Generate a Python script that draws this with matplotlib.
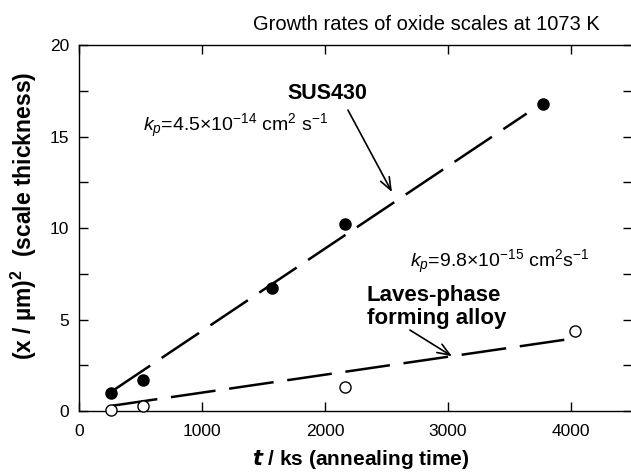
import matplotlib
matplotlib.use("Agg")
import matplotlib.pyplot as plt
import numpy as np

plt.rcParams['font.family'] = ['Liberation Sans', 'DejaVu Sans']
plt.rcParams['mathtext.fontset'] = 'custom'
plt.rcParams['mathtext.rm'] = 'Liberation Sans'
plt.rcParams['mathtext.it'] = 'Liberation Sans:italic'
plt.rcParams['mathtext.bf'] = 'Liberation Sans:bold'

# measured (x/um)^2 against annealing time (ks)
sus_t = [259, 518, 1570, 2160, 3775]
sus_x2 = [1.0, 1.68, 6.75, 10.2, 16.8]
laves_t = [259, 518, 2160, 4030]
laves_x2 = [0.07, 0.3, 1.3, 4.4]

# parabolic rate constants, cm^2 s^-1
kp_sus = 4.5e-14
kp_laves = 9.8e-15
sus_b = -0.12
laves_b = 0.03
sus_fit_t = [275, 3640]
laves_fit_t = [275, 4010]

xticks = [0, 1000, 2000, 3000, 4000]
yticks = [0, 5, 10, 15, 20]

fig = plt.figure(figsize=(6.31, 4.72), dpi=100)
ax = fig.add_axes([0.1252, 0.129, 0.877, 0.7754])

# cm^2/s -> um^2/ks
def fit(t, kp, b):
    t = np.array(t, dtype=float)
    return t, kp * 1e8 * 1e3 * t + b

ft, fy = fit(sus_fit_t, kp_sus, sus_b)
ax.plot(ft, fy, color='black', lw=1.8, dashes=(18, 5.5), solid_capstyle='butt')
ft, fy = fit(laves_fit_t, kp_laves, laves_b)
ax.plot(ft, fy, color='black', lw=1.8, dashes=(18, 5.5), solid_capstyle='butt')

ax.plot(sus_t, sus_x2, 'o', color='black', ms=8, clip_on=False, zorder=5)
ax.plot(laves_t, laves_x2, 'o', mfc='white', mec='black', mew=1.0, ms=8,
        clip_on=False, zorder=5)

ax.set_xlim(0, 4500)
ax.set_ylim(0, 20)
ax.set_xticks(xticks)
ax.set_yticks(yticks)
ax.set_yticks([2.5, 7.5, 12.5, 17.5], minor=True)
ax.tick_params(which='both', direction='in', top=True, right=True,
               length=6.5, width=1.0, labelsize=12.5)
ax.tick_params(axis='x', pad=9)
ax.tick_params(axis='y', pad=7)
for s in ax.spines.values():
    s.set_linewidth(1.0)

ax.text(2020, 17.35, 'SUS430', fontsize=15.5, fontweight='bold',
        ha='center', va='center')
ax.text(520, 15.6, r'$k_p$=4.5$\times$10$^{-14}$ cm$^2$ s$^{-1}$', fontsize=14,
        ha='left', va='center')
ax.text(2691, 8.14, r'$k_p$=9.8$\times$10$^{-15}$ cm$^2$s$^{-1}$', fontsize=14,
        ha='left', va='center')
ax.text(2341, 5.7, 'Laves-phase\nforming alloy', fontsize=16, fontweight='bold',
        ha='left', va='center', linespacing=1.1)

arrow = dict(arrowstyle='->,head_length=0.9,head_width=0.35', color='black', lw=1.2,
             shrinkA=0, shrinkB=0)
ax.annotate('', xy=(2545, 11.97), xytext=(2187, 16.45), arrowprops=arrow)
ax.annotate('', xy=(3033, 3.0), xytext=(2691, 4.43), arrowprops=arrow)

fig.text(0.675, 0.949, 'Growth rates of oxide scales at 1073 K', fontsize=14.5,
         ha='center', va='center')
fig.text(0.038, 0.542, r'(x / µm)$^\mathbf{2}$  (scale thickness)', fontsize=16.5,
         fontweight='bold', rotation=90, ha='center', va='center')
fig.text(0.571, 0.0275, r'$\mathbfit{t}$ / ks (annealing time)', fontsize=15,
         fontweight='bold', ha='center', va='center')

fig.savefig('out.png', dpi=100)
